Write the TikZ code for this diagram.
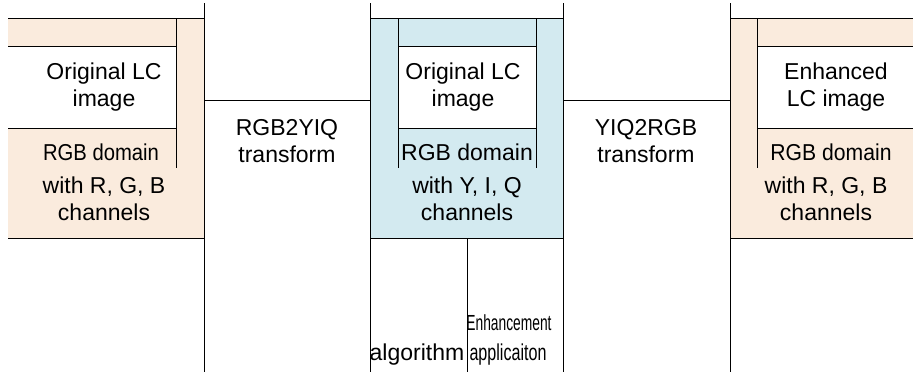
\documentclass[tikz,border=0pt]{standalone}
\usepackage{fontspec}
\setmainfont{Liberation Sans}
\usepackage{graphicx}
\definecolor{peach}{HTML}{FAEBDD}
\definecolor{paleblue}{HTML}{D3EAF0}

\begin{document}
\begin{tikzpicture}[x=1pt,y=-1pt,line width=1pt,every node/.style={font=\fontsize{23}{27}\selectfont,inner sep=0pt,align=center,anchor=base}]
\useasboundingbox (0,0) rectangle (913,372);
% coloured blocks
\fill[peach] (8,18) rectangle (204,238);
\fill[paleblue] (370,18) rectangle (563,238);
\fill[peach] (730,18) rectangle (913,238);
\fill[white] (8,46) rectangle (176,128);
\fill[white] (398,46) rectangle (536,128);
\fill[white] (757,46) rectangle (913,128);
% block frames
\foreach \a/\b in {8/204,370/563,730/913}{\draw (\a,18) -- (\b,18); \draw (\a,238) -- (\b,238);}
\foreach \a/\b in {8/176,398/536,757/913}{\draw (\a,46) -- (\b,46); \draw (\a,128) -- (\b,128);}
\foreach \x in {176,398,536,757}{\draw (\x,18) -- (\x,168);}
\foreach \x in {204,370,563,730}{\draw (\x,3) -- (\x,372);}
\draw (467,238) -- (467,372);
% texts (base = last line)
\node (orig1) at (104,106) {Original LC\\image};
\node (rgb1) at (101,160) {\scalebox{0.88}[1]{RGB domain}};
\node (ch1) at (104,220) {with R, G, B\\channels};
\node (fwd) at (287,162) {RGB2YIQ\\transform};
\node (orig2) at (463,106) {Original LC\\image};
\node (rgb2) at (467,160) {RGB domain};
\node (ch2) at (467,220) {with Y, I, Q\\channels};
\node (bwd) at (646,162) {YIQ2RGB\\transform};
\node (enh) at (836,106) {Enhanced\\LC image};
\node (rgb3) at (831,160) {\scalebox{0.92}[1]{RGB domain}};
\node (ch3) at (826,220) {with R, G, B\\channels};
\node (alg) at (417,360) {algorithm};
\node (enhm) at (509,330) {\scalebox{0.6}[0.95]{Enhancement}};
\node (appl) at (508,360) {\scalebox{0.7}[1]{applicaiton}};
% connectors
\coordinate (l1) at (204,100);
\coordinate (m1) at (370,100);
\coordinate (m2) at (563,100);
\coordinate (r1) at (730,100);
\draw (l1) -- (m1);
\draw (m2) -- (r1);
\end{tikzpicture}
\end{document}
